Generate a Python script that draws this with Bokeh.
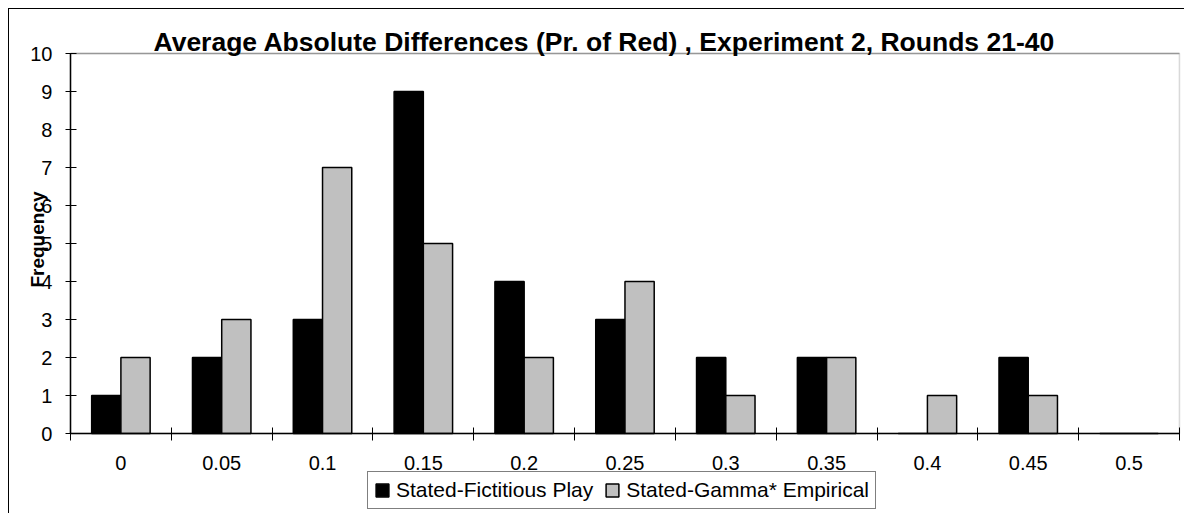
import math
from bokeh.plotting import figure
from bokeh.models import (Range1d, FixedTicker, ColumnDataSource, Legend, LegendItem,
                          LinearAxis, BoxAnnotation, Label)
from bokeh.transform import dodge
from bokeh.embed import file_html
from bokeh.resources import INLINE

categories = ["0", "0.05", "0.1", "0.15", "0.2", "0.25", "0.3", "0.35", "0.4", "0.45", "0.5"]
fictitious = [1, 2, 3, 9, 4, 3, 2, 2, 0, 2, 0]
gamma = [2, 3, 7, 5, 2, 4, 1, 2, 1, 1, 0]
series_names = ["Stated-Fictitious Play", "Stated-Gamma* Empirical"]
y_ticks = list(range(0, 11))
title_text = "Average Absolute Differences (Pr. of Red) , Experiment 2, Rounds 21-40"
y_label = "Frequency"

FONT = "Liberation Sans"
n = len(categories)
idx = list(range(n))
bw = 0.29
y_max = 10
x_lo, x_hi = -0.5, n - 0.5

# frame covers the whole canvas; the plot area (0..10, -0.5..10.5) sits inside it
p = figure(width=1176, height=505, output_backend="svg", toolbar_location=None,
           x_range=Range1d(-1.105, 10.56), y_range=Range1d(-2.13, 11.158),
           x_axis_location=None, y_axis_location=None,
           min_border_left=0, min_border_right=0, min_border_top=0, min_border_bottom=0)
p.title.visible = False
p.styles = {"margin-left": "8px", "margin-top": "8px",
            "border-left": "1px solid #000000", "border-top": "1px solid #000000"}

p.xgrid.visible = False
p.ygrid.visible = False
p.background_fill_color = "white"
p.border_fill_color = "white"
p.outline_line_color = None

# plot-area border (gray) with black top edge
p.add_layout(BoxAnnotation(left=x_lo, right=x_hi, bottom=0, top=y_max,
                           fill_alpha=0, line_color="#808080", line_width=1.5, level="underlay"))
p.add_layout(BoxAnnotation(left=x_lo, right=x_hi, bottom=y_max, top=y_max,
                           fill_alpha=0, line_color="black", line_width=1.5, level="underlay"))

src = ColumnDataSource(dict(x=idx, a=fictitious, b=gamma))
r1 = p.vbar(x=dodge("x", -bw / 2, range=p.x_range), top="a", width=bw, source=src,
            fill_color="black", line_color="black", line_width=1.5)
r2 = p.vbar(x=dodge("x", bw / 2, range=p.x_range), top="b", width=bw, source=src,
            fill_color="#C0C0C0", line_color="black", line_width=1.5)

# x axis at y = 0
xa = LinearAxis(fixed_location=0, bounds=(x_lo, x_hi))
xa.ticker = FixedTicker(ticks=idx, minor_ticks=[i - 0.5 for i in range(n + 1)])
xa.major_label_overrides = {i: c for i, c in zip(idx, categories)}
xa.major_tick_in = 0
xa.major_tick_out = 0
xa.minor_tick_in = 6
xa.minor_tick_out = 7
xa.minor_tick_line_color = "black"
xa.axis_line_color = "black"
xa.axis_line_width = 1.5
xa.major_label_text_font = FONT
xa.major_label_text_font_size = "20px"
xa.major_label_text_color = "black"
xa.major_label_standoff = 15
p.add_layout(xa, "below")

# y axis at x = -0.5
ya = LinearAxis(fixed_location=x_lo, bounds=(0, y_max))
ya.ticker = FixedTicker(ticks=y_ticks, minor_ticks=[])
ya.major_tick_in = 6
ya.major_tick_out = 5
ya.major_tick_line_color = "black"
ya.axis_line_color = "black"
ya.axis_line_width = 1.5
ya.major_label_text_font = FONT
ya.major_label_text_font_size = "20px"
ya.major_label_text_color = "black"
ya.major_label_standoff = 13
p.add_layout(ya, "left")

p.add_layout(Label(x=x_lo, y=y_max, x_offset=83, y_offset=12, text=title_text,
                   text_font=FONT, text_font_size="26.5px", text_font_style="bold",
                   text_color="black", text_align="left", text_baseline="alphabetic"))
p.add_layout(Label(x=x_lo, y=y_max / 2, x_offset=-33, y_offset=4, text=y_label,
                   angle=math.pi / 2, text_font=FONT, text_font_size="19px",
                   text_font_style="bold", text_color="black",
                   text_align="center", text_baseline="middle"))

legend = Legend(items=[LegendItem(label=series_names[0], renderers=[r1]),
                       LegendItem(label=series_names[1], renderers=[r2])],
                orientation="horizontal", location=(358, 5),
                label_text_font=FONT, label_text_font_size="21px", label_text_color="black",
                label_standoff=6, glyph_width=16, glyph_height=16, label_height=16,
                spacing=11, padding=6, margin=0,
                border_line_color="black", border_line_width=1.2,
                background_fill_alpha=1.0)
p.add_layout(legend, "center")

open("out.html", "w").write(file_html(p, INLINE))
